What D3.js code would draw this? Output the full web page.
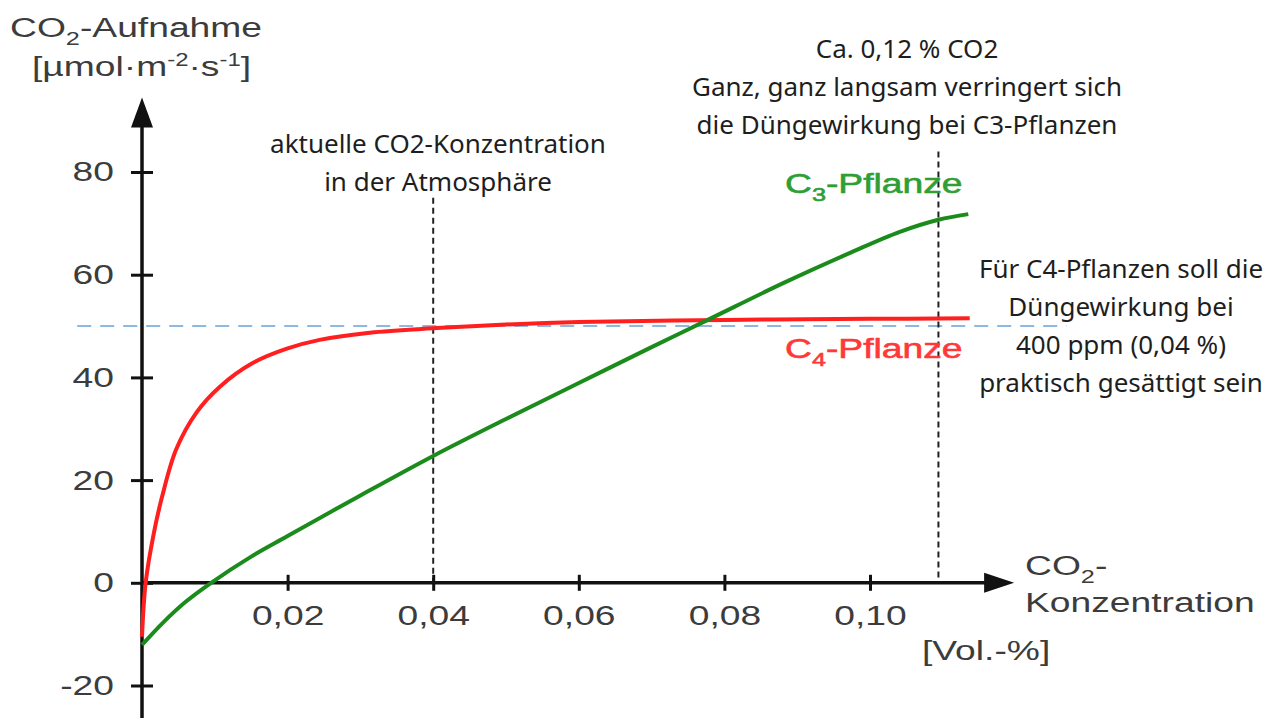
<!DOCTYPE html>
<html>
<head>
<meta charset="utf-8">
<script src="https://cdn.jsdelivr.net/npm/d3@7"></script>
<style>
  body { margin: 0; background: #fff; }
  svg { display: block; }
</style>
</head>
<body>
<svg id="chart"></svg>
<script>
// CO2 uptake vs. CO2 concentration
const xTicks = [0.02, 0.04, 0.06, 0.08, 0.10];
const yTicks = [-20, 0, 20, 40, 60, 80];

// C3 plant
const c3Conc   = [0, 0.003, 0.006, 0.0095, 0.015, 0.02, 0.03, 0.04, 0.05, 0.06, 0.07, 0.078, 0.088, 0.0975, 0.104, 0.1094, 0.1135];
const c3Uptake = [-12.1, -7.6, -3.7, 0, 5.1, 9.1, 17.0, 24.7, 31.9, 38.9, 45.9, 51.4, 58.3, 64.4, 68.3, 70.7, 71.8];

// C4 plant
const c4Conc   = [0, 0.0005, 0.0016, 0.0028, 0.0047, 0.0075, 0.0107, 0.0152, 0.0199, 0.0244, 0.0313, 0.0405, 0.05, 0.06, 0.08, 0.10, 0.1137];
const c4Uptake = [-10.5, 0, 9.5, 17, 26, 33.2, 38.2, 42.8, 45.6, 47.3, 48.7, 49.6, 50.3, 50.8, 51.2, 51.4, 51.5];

// reference lines
const saturationLevel = 50;                 // blue dashed line
const saturationSpan = [-0.0089, 0.127];
const markerConc = [0.04, 0.1094];          // dotted verticals
const markerTop = [75, 84];                 // where the dotted lines start (uptake units)

const annotations = [
  { x: 438, y: 153, lines: ['aktuelle CO2-Konzentration', 'in der Atmosphäre'] },
  { x: 907, y: 58,  lines: ['Ca. 0,12 % CO2', 'Ganz, ganz langsam verringert sich', 'die Düngewirkung bei C3-Pflanzen'] },
  { x: 1121, y: 278, lines: ['Für C4-Pflanzen soll die', 'Düngewirkung bei', '400 ppm (0,04 %)', 'praktisch gesättigt sein'] }
];

const width = 1274;
const height = 718;
const sx = 1.33; // the original lettering is stretched sideways

const svg = d3.select('#chart')
  .attr('width', width)
  .attr('height', height);

svg.append('rect').attr('width', width).attr('height', height).attr('fill', '#fff');

const x = d3.scaleLinear().domain([0, 0.1]).range([142, 870]);
const y = d3.scaleLinear().domain([-20, 80]).range([685.5, 172]);

const axisColor = '#111';
const labelColor = '#3c3c3c';

// blue dashed saturation line
svg.append('line')
  .attr('x1', x(saturationSpan[0]))
  .attr('x2', x(saturationSpan[1]))
  .attr('y1', y(saturationLevel))
  .attr('y2', y(saturationLevel))
  .attr('stroke', '#8db8e3')
  .attr('stroke-width', 2)
  .attr('stroke-dasharray', '14,9');

// dotted markers
markerConc.forEach((c, i) => {
  svg.append('line')
    .attr('x1', x(c)).attr('x2', x(c))
    .attr('y1', y(markerTop[i])).attr('y2', y(0))
    .attr('stroke', '#222')
    .attr('stroke-width', 2)
    .attr('stroke-dasharray', '6,4');
});

// axes
const xAxis = d3.axisBottom(x)
  .tickValues(xTicks)
  .tickSize(8)
  .tickPadding(14)
  .tickFormat(d => d.toFixed(2).replace('.', ','));

const gx = svg.append('g')
  .attr('transform', `translate(0,${y(0)})`)
  .call(xAxis);
gx.select('.domain').remove();
gx.selectAll('.tick line').attr('y1', -8).attr('stroke', axisColor).attr('stroke-width', 3);
gx.selectAll('.tick text')
  .attr('fill', labelColor)
  .attr('font-family', 'Liberation Sans, Arial, sans-serif')
  .attr('font-size', 28)
  .attr('transform', `scale(${sx},1)`);

const yAxis = d3.axisLeft(y)
  .tickValues(yTicks)
  .tickSize(11)
  .tickFormat(d => String(d));

const gy = svg.append('g')
  .attr('transform', `translate(${x(0)},0)`)
  .call(yAxis);
gy.select('.domain').remove();
gy.selectAll('.tick line').attr('x1', 11).attr('stroke', axisColor).attr('stroke-width', 3);
gy.selectAll('.tick text')
  .attr('x', null)
  .attr('fill', labelColor)
  .attr('font-family', 'Liberation Sans, Arial, sans-serif')
  .attr('font-size', 28)
  .attr('transform', `translate(-28,0) scale(${sx},1)`);

// axis lines with arrow heads
const xEnd = 0.1198;
const yTopVal = 94.5;
svg.append('line')
  .attr('x1', x(0)).attr('x2', x(xEnd) - 20)
  .attr('y1', y(0)).attr('y2', y(0))
  .attr('stroke', axisColor).attr('stroke-width', 3.5);
svg.append('path')
  .attr('d', `M${x(xEnd)},${y(0)} L${x(xEnd) - 30},${y(0) - 10} L${x(xEnd) - 30},${y(0) + 10} Z`)
  .attr('fill', axisColor);
svg.append('line')
  .attr('x1', x(0)).attr('x2', x(0))
  .attr('y1', height).attr('y2', y(yTopVal) + 20)
  .attr('stroke', axisColor).attr('stroke-width', 3.5);
svg.append('path')
  .attr('d', `M${x(0)},${y(yTopVal)} L${x(0) - 11},${y(yTopVal) + 30} L${x(0) + 11},${y(yTopVal) + 30} Z`)
  .attr('fill', axisColor);

// curves
const line = d3.line()
  .x(d => x(d[0]))
  .y(d => y(d[1]))
  .curve(d3.curveCatmullRom.alpha(0.5));

svg.append('path')
  .datum(d3.zip(c4Conc, c4Uptake))
  .attr('fill', 'none')
  .attr('stroke', '#ff1f1f')
  .attr('stroke-width', 4)
  .attr('d', line);

svg.append('path')
  .datum(d3.zip(c3Conc, c3Uptake))
  .attr('fill', 'none')
  .attr('stroke', '#1b8c1b')
  .attr('stroke-width', 4)
  .attr('d', line);

// stretched Arial-like lettering
function stretched(px, py, color, size) {
  return svg.append('g')
    .attr('transform', `translate(${px},${py}) scale(${sx},1)`)
    .append('text')
    .attr('fill', color)
    .attr('font-family', 'Liberation Sans, Arial, sans-serif')
    .attr('font-size', size || 28);
}

function withSub(t, before, sub, after, shift) {
  t.append('tspan').text(before);
  t.append('tspan').attr('font-size', 19).attr('dy', shift).text(sub);
  t.append('tspan').attr('dy', -shift).text(after);
}

// y axis title
withSub(stretched(10, 37, labelColor), 'CO', '2', '-Aufnahme', 8);
const unit = stretched(32, 76, labelColor);
unit.append('tspan').text('[µmol·m');
unit.append('tspan').attr('font-size', 18).attr('dy', -10).text('-2');
unit.append('tspan').attr('dy', 10).text('·s');
unit.append('tspan').attr('font-size', 18).attr('dy', -10).text('-1');
unit.append('tspan').attr('dy', 10).text(']');

// x axis title
withSub(stretched(1025, 575, labelColor), 'CO', '2', '-', 8);
stretched(1025, 612, labelColor).text('Konzentration');
stretched(922, 660, labelColor).text('[Vol.-%]');

// series labels
const c3Label = stretched(785, 193, '#2f9e34');
withSub(c3Label, 'C', '3', '-Pflanze', 8);
c3Label.attr('stroke', '#2f9e34').attr('stroke-width', 0.6);
const c4Label = stretched(785, 358, '#ff3838');
withSub(c4Label, 'C', '4', '-Pflanze', 8);
c4Label.attr('stroke', '#ff3838').attr('stroke-width', 0.6);

// notes
annotations.forEach(a => {
  const t = svg.append('text')
    .attr('text-anchor', 'middle')
    .attr('fill', '#1e1e1e')
    .attr('font-family', 'Noto Sans, Open Sans, sans-serif')
    .attr('font-size', 26);
  a.lines.forEach((s, i) => {
    t.append('tspan').attr('x', a.x).attr('y', a.y + i * 38).text(s);
  });
});
</script>
</body>
</html>
